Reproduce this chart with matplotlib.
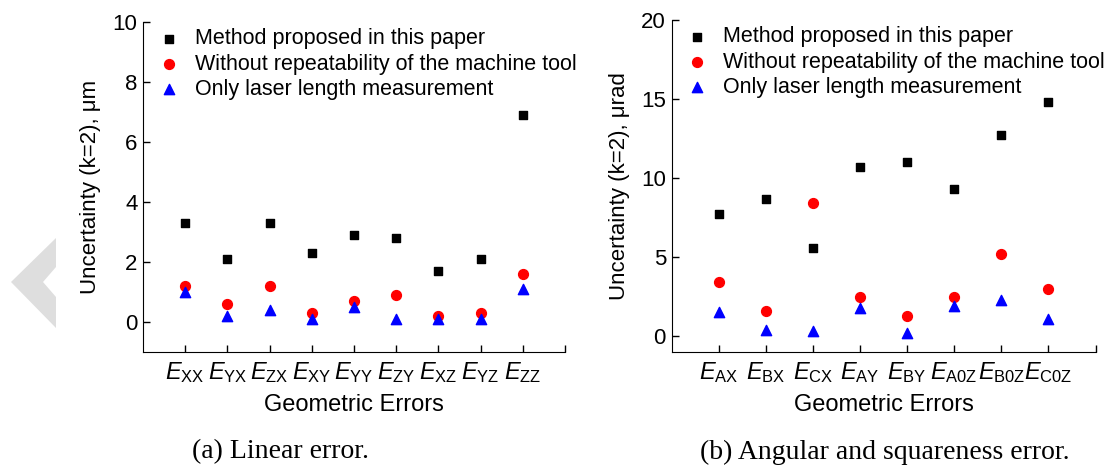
import matplotlib
matplotlib.use("Agg")
import matplotlib.pyplot as plt
from matplotlib.patches import Polygon

plt.rcParams['font.family'] = ['Liberation Sans', 'DejaVu Sans']
plt.rcParams['mathtext.fontset'] = 'custom'
plt.rcParams['mathtext.rm'] = 'Liberation Sans'
plt.rcParams['mathtext.it'] = 'Liberation Sans:italic'

# (a) linear errors, um
lin_labels = ['XX', 'YX', 'ZX', 'XY', 'YY', 'ZY', 'XZ', 'YZ', 'ZZ']
lin_method = [3.3, 2.1, 3.3, 2.3, 2.9, 2.8, 1.7, 2.1, 6.9]
lin_norep = [1.2, 0.6, 1.2, 0.3, 0.7, 0.9, 0.2, 0.3, 1.6]
lin_laser = [1.0, 0.2, 0.4, 0.1, 0.5, 0.1, 0.1, 0.1, 1.1]

# (b) angular and squareness errors, urad
ang_labels = ['AX', 'BX', 'CX', 'AY', 'BY', 'A0Z', 'B0Z', 'C0Z']
ang_method = [7.7, 8.7, 5.6, 10.7, 11.0, 9.3, 12.7, 14.8]
ang_norep = [3.4, 1.6, 8.4, 2.5, 1.3, 2.5, 5.2, 3.0]
ang_laser = [1.5, 0.4, 0.3, 1.8, 0.2, 1.9, 2.3, 1.1]

series_names = ['Method proposed in this paper',
                'Without repeatability of the machine tool',
                'Only laser length measurement']

fig = plt.figure(figsize=(11.09, 4.68), dpi=100)
ax1 = fig.add_axes([143/1109, 116/468, 422/1109, 330/468])
ax2 = fig.add_axes([671.5/1109, 116/468, 424/1109, 332/468])


def draw_panel(ax, labels, method, norep, laser, ylim, yticks, ylabel):
    x = list(range(1, len(labels) + 1))
    ax.scatter(x, method, marker='s', s=40, color='black', label=series_names[0], zorder=3)
    ax.scatter(x, norep, marker='o', s=50, color='red', label=series_names[1], zorder=3)
    ax.scatter(x, laser, marker='^', s=55, color='blue', label=series_names[2], zorder=3)
    ax.set_xlim(0, len(labels) + 1)
    ax.set_ylim(*ylim)
    ax.set_yticks(yticks)
    ax.set_xticks(x + [len(labels) + 1])
    ax.set_xticklabels([r'$\mathit{E}_{\mathrm{%s}}$' % l for l in labels] + [''])
    ax.spines['top'].set_visible(False)
    ax.spines['right'].set_visible(False)
    ax.tick_params(direction='in', length=5, width=1, labelsize=16, pad=4)
    ax.tick_params(axis='x', labelsize=17, pad=6)
    ax.set_xlabel('Geometric Errors', fontsize=17, labelpad=6)
    ax.set_ylabel(ylabel, fontsize=16, labelpad=8)
    ax.legend(loc='upper left', bbox_to_anchor=(0.0, 1.02), frameon=False,
              fontsize=15.5, handletextpad=0.6, labelspacing=0.2,
              handlelength=1.2, borderaxespad=0.2)


draw_panel(ax1, lin_labels, lin_method, lin_norep, lin_laser, (-1, 10),
           [0, 2, 4, 6, 8, 10], 'Uncertainty (k=2), \u03bcm')
draw_panel(ax2, ang_labels, ang_method, ang_norep, ang_laser, (-1, 20),
           [0, 5, 10, 15, 20], 'Uncertainty (k=2), \u03bcrad')

fig.text(280/1109, 1 - 452/468, '(a) Linear error.', ha='center', va='center',
         fontsize=20, family='Liberation Serif')
fig.text(885/1109, 1 - 452/468, '(b) Angular and squareness error.', ha='center',
         va='center', fontsize=20, family='Liberation Serif')

# faint page watermark at the left edge
chev = [(56, 238), (56, 267), (43, 282), (56, 297), (56, 328), (11, 282)]
fig.patches.append(Polygon([(px/1109, 1 - py/468) for px, py in chev], closed=True,
                           transform=fig.transFigure, facecolor='#dedede',
                           edgecolor='none'))

fig.savefig('out.png', dpi=100)
